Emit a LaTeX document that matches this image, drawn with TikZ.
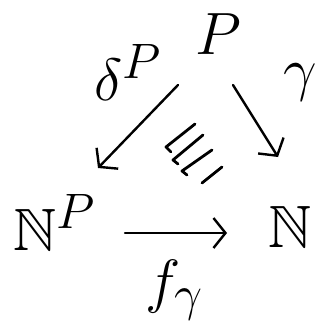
\documentclass[tikz,border=0pt]{standalone}
\usepackage{amssymb}
\usetikzlibrary{arrows.meta,calc}
\begin{document}
\begin{tikzpicture}[x=1pt,y=-1pt,
  lbl/.style={inner sep=0pt, font=\Huge, scale=2.4},
  arr/.style={line width=2.4pt, line cap=round, -{Straight Barb[length=12pt,width=30pt,line width=2.4pt]}},
  hatch/.style={line width=2.8pt, line cap=round, line join=round}]
\useasboundingbox (0,0) rectangle (320,332);
\fill[white] (0,0) rectangle (320,332);
\node[lbl] (P) at (218,34) {$P$};
\node[lbl, anchor=base west] (NP) at (13,250) {$\mathbb{N}^{P}$};
\node[lbl, anchor=base west] (N) at (268,247) {$\mathbb{N}$};
\node[lbl, anchor=base west] (dP) at (94,100) {$\delta^{P}$};
\node[lbl] (g) at (300,82) {$\gamma$};
\node[lbl] (f) at (175,290) {$f_{\gamma}$};
\draw[arr] ($(P)+(-40,51)$) -- ($(NP.base west)+(85,-82)$);
\draw[arr] ($(P)+(15,51)$) -- ($(N.base west)+(10,-90)$);
\draw[arr] ($(NP.base west)+(112,-17)$) -- ($(N.base west)+(-41,-14)$);
\draw[hatch] (195,124) -- (166,147) -- (171,152);
\draw[hatch] (203,135) -- (173,160) -- (178,164);
\draw[hatch] (212,150) -- (182,171) -- (187,175);
\draw[hatch] (222,167) -- (202,183);
\end{tikzpicture}
\end{document}
